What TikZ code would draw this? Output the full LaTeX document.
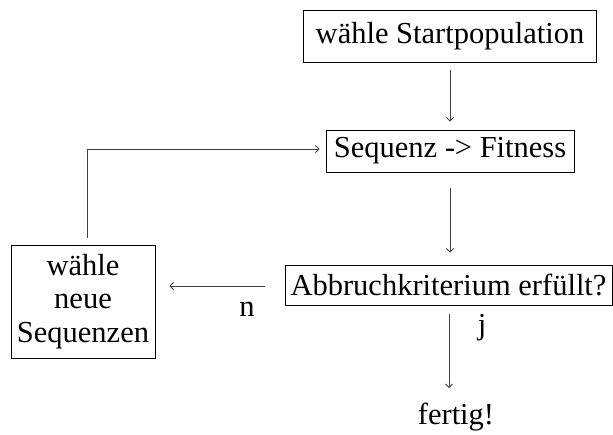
\documentclass[tikz,border=0pt]{standalone}
\usepackage{fontspec}
\setmainfont{Liberation Serif}
\usetikzlibrary{arrows.meta}
\begin{document}
\begin{tikzpicture}[x=1pt,y=-1pt,
  every node/.style={font=\fontsize{30.5}{33.5}\selectfont, inner sep=0pt},
  box/.style={draw, line width=0.9pt, align=center},
  arr/.style={draw=black!75, line width=0.8pt, -{Straight Barb[length=3.5pt,width=7pt]}},
  lbl/.style={anchor=base}]
\useasboundingbox (0,0) rectangle (613,434);
\node[box, minimum width=293pt, minimum height=52pt] (start) at (450,36) {wähle Startpopulation};
\node[box, minimum width=248pt, minimum height=42pt] (fit) at (450,151) {Sequenz -> Fitness};
\node[box, minimum width=327pt, minimum height=40pt] (abb) at (448.5,285) {Abbruchkriterium erfüllt?};
\node[box, minimum width=144pt, minimum height=113pt] (neu) at (83,301.5) {wähle\\neue\\Sequenzen};
\node[lbl] (fertig) at (456,424) {fertig!};
\node[lbl] (n) at (247,316) {n};
\node[lbl] (j) at (482,334) {j};
\draw[arr, shorten <=8pt, shorten >=8pt] (start.south) -- (fit.north);
\draw[arr, shorten <=16pt, shorten >=12pt] (fit.south) -- (fit.south |- abb.north);
\draw[arr, shorten <=20pt, shorten >=14pt] ([yshift=-1pt]abb.west) -- ([yshift=-1pt]abb.west -| neu.east);
\draw[arr, shorten <=7pt, shorten >=6pt] ([xshift=4pt]neu.north) |- ([yshift=2pt]fit.west);
\coordinate (fend) at (449,388);
\draw[arr, shorten <=9pt] (abb.south -| fend) -- (fend);
\end{tikzpicture}
\end{document}
